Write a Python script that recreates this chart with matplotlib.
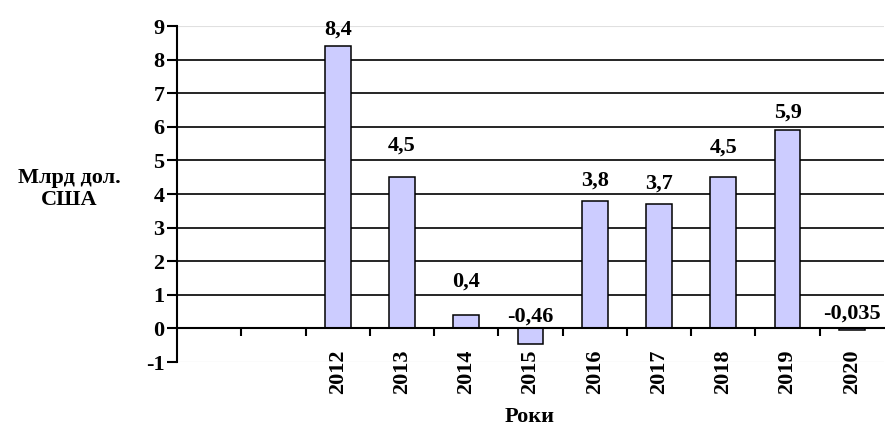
import matplotlib.pyplot as plt
import numpy as np

plt.rcParams['font.family'] = ['Liberation Serif', 'DejaVu Serif']
plt.rcParams['font.weight'] = 'bold'
plt.rcParams['axes.unicode_minus'] = False

# data: two empty categories before 2012, as in the original chart
years = ['', '', '2012', '2013', '2014', '2015', '2016', '2017', '2018', '2019', '2020']
values = [np.nan, np.nan, 8.4, 4.5, 0.4, -0.46, 3.8, 3.7, 4.5, 5.9, -0.035]
value_labels = ['', '', '8,4', '4,5', '0,4', '-0,46', '3,8', '3,7', '4,5', '5,9', '-0,035']

# how far above the bar top (or zero line) each label sits, data units
label_gap = [0, 0, 0.35, 0.8, 0.85, 0.2, 0.45, 0.45, 0.74, 0.37, 0.3]

fig = plt.figure(figsize=(8.85, 4.28), dpi=100)
ax = fig.add_axes([177 / 885, 1 - 362 / 428, 707 / 885, 336 / 428])

x = np.arange(len(years))
ax.bar(x, values, width=0.4, color='#ccccff', edgecolor='black', linewidth=1.1, zorder=2)

for xi, v, lab, g in zip(x, values, value_labels, label_gap):
    if lab:
        ax.text(xi, max(v, 0) + g, lab, ha='center', va='baseline',
                fontsize=16, fontweight='bold')

ax.set_xlim(-0.5, len(years) - 0.5)
ax.set_ylim(-1, 9)
ax.set_yticks(range(-1, 10))
ax.tick_params(axis='y', labelsize=16, length=7, width=1.5, pad=2)

# category separators as major ticks, year labels as minor ticks
ax.set_xticks(np.arange(0.5, len(years) - 1, 1), labels=[''] * (len(years) - 1))
ax.set_xticks(x, labels=years, minor=True)
ax.tick_params(axis='x', which='major', length=6, width=1.5, direction='out')
ax.tick_params(axis='x', which='minor', length=0, pad=15, labelsize=16, labelrotation=90)

ax.spines['top'].set_visible(False)
ax.spines['right'].set_visible(False)
ax.spines['bottom'].set_position(('data', 0))
ax.spines['bottom'].set_linewidth(1.5)
ax.spines['left'].set_linewidth(1.5)

ax.set_axisbelow(True)
ax.grid(axis='y', color='black', linewidth=1.2)
gl = ax.get_ygridlines()
gl[0].set_color('#c8c8c8')
gl[0].set_linewidth(0.8)
gl[-1].set_color('#e0e0e0')
gl[-1].set_linewidth(0.8)

fig.text(69 / 885, 1 - 189 / 428, 'Млрд дол.\nСША', ha='center', va='center',
         fontsize=16, fontweight='bold', linespacing=1.15)
fig.text(530 / 885, 1 - 407 / 428, 'Роки', ha='center', va='top',
         fontsize=16, fontweight='bold')

fig.savefig('out.png', dpi=100)
